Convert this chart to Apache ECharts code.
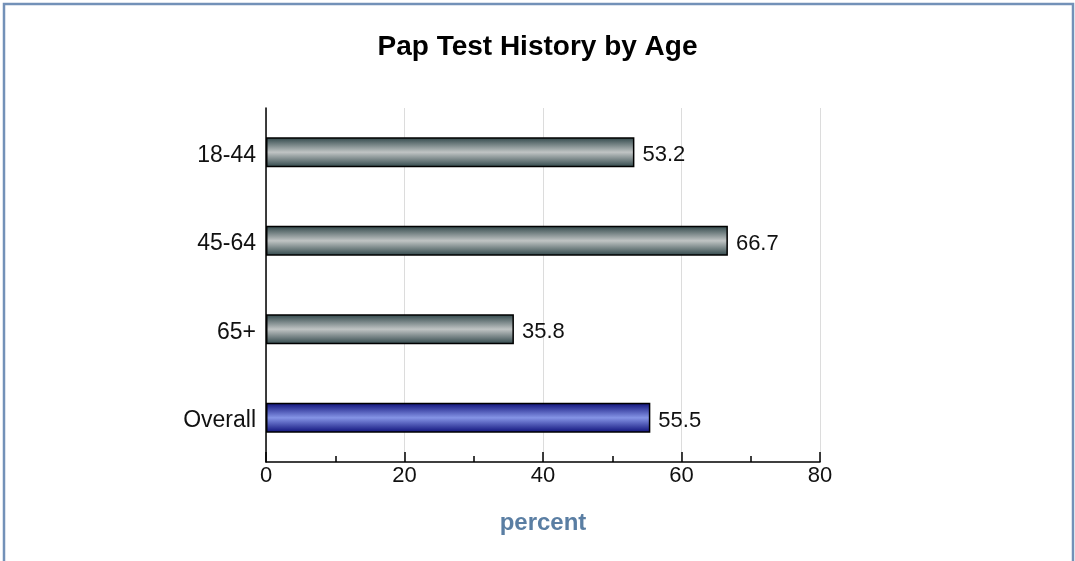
<!DOCTYPE html>
<html><head><meta charset="utf-8">
<script src="https://cdn.jsdelivr.net/npm/echarts@6/dist/echarts.min.js"></script>
<style>html,body{margin:0;padding:0;background:#fff;}#c{width:1075px;height:561px;}</style>
</head><body><div id="c"></div>
<script>
const categories = ['18-44', '45-64', '65+', 'Overall'];
const values = [53.2, 66.7, 35.8, 55.5];
const xTicks = [0, 20, 40, 60, 80];
const titleText = 'Pap Test History by Age';
const axisName = 'percent';

function grad(edge, mid) {
  return new echarts.graphic.LinearGradient(0, 0, 0, 1, [
    {offset: 0, color: edge}, {offset: 0.5, color: mid}, {offset: 1, color: edge}
  ]);
}
const grayG = grad('#2e4548', '#c0c4c4');
const blueG = grad('#0c0e78', '#8594e6');

const chart = echarts.init(document.getElementById('c'), null, {renderer: 'canvas'});
chart.setOption({
  animation: false,
  backgroundColor: '#fff',
  graphic: [{type: 'rect', shape: {x: 4, y: 4, width: 1069, height: 620}, style: {fill: 'none', stroke: '#7391b8', lineWidth: 2.5}, z: 100}],
  title: {text: titleText, left: 'center', top: 28, textStyle: {fontFamily: 'Liberation Sans', fontWeight: 'bold', fontSize: 28, color: '#000'}},
  grid: {left: 266, right: 255, top: 108, bottom: 99},
  xAxis: {
    type: 'value', min: 0, max: 80, interval: 20,
    name: axisName, nameLocation: 'middle', nameGap: 49,
    nameTextStyle: {fontFamily: 'Liberation Sans', fontWeight: 'bold', fontSize: 24, color: '#5a7ea3'},
    axisLine: {show: true, lineStyle: {color: '#000', width: 1.5}},
    axisTick: {show: true, inside: true, length: 10, lineStyle: {color: '#000', width: 1.5}},
    minorTick: {show: true, splitNumber: 2, length: 6, lineStyle: {color: '#000', width: 1.5}},
    axisLabel: {fontFamily: 'Liberation Sans', fontSize: 22, color: '#111', margin: 3,
      formatter: v => xTicks.includes(v) ? String(v) : ''},
    splitLine: {show: true, lineStyle: {color: '#dcdcdc', width: 1}}
  },
  yAxis: {
    type: 'category', data: categories, inverse: true,
    axisLine: {show: true, lineStyle: {color: '#000', width: 1.5}},
    axisTick: {show: false},
    axisLabel: {margin: 10, formatter: v => '{a|' + v + '}',
      rich: {a: {fontFamily: 'Liberation Sans', fontSize: 23, color: '#111', padding: [6, 0, 0, 0]}}}
  },
  series: [{
    type: 'bar', barWidth: 30,
    data: values.map((v, i) => ({value: v, itemStyle: {color: i === values.length - 1 ? blueG : grayG}})),
    itemStyle: {borderColor: '#000', borderWidth: 1.5},
    label: {show: true, position: 'right', distance: 8, offset: [0, 3], fontFamily: 'Liberation Sans', fontSize: 22, color: '#111', formatter: p => p.value.toFixed(1)}
  }]
});
</script></body></html>
